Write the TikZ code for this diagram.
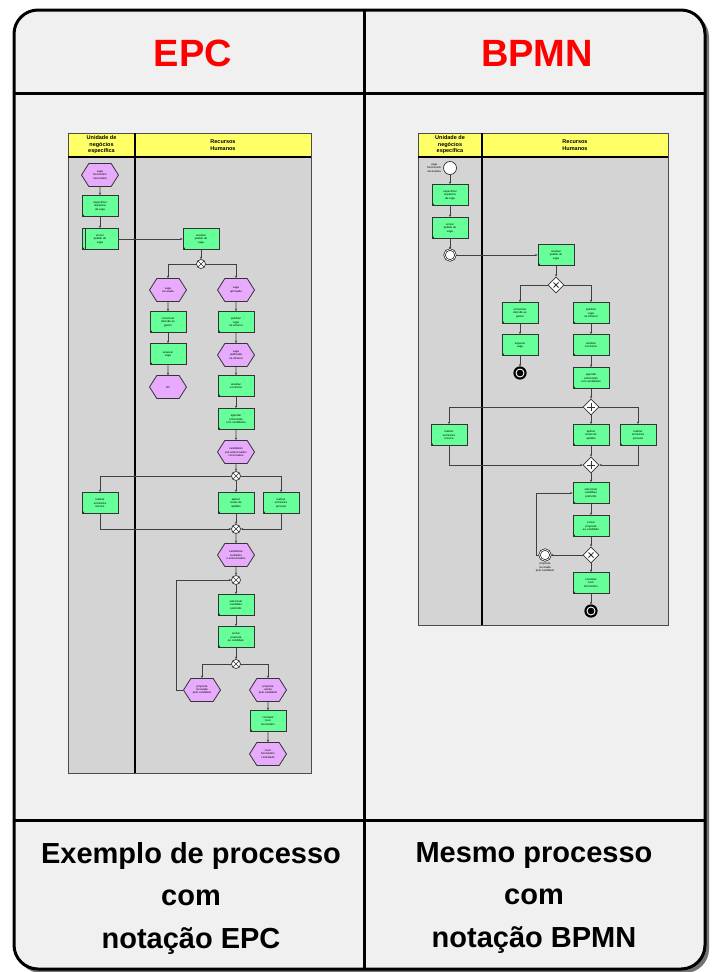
\documentclass[tikz,border=0pt]{standalone}
\usepackage{fontspec}
\setmainfont{Liberation Sans}
\usetikzlibrary{shapes.symbols,shapes.geometric,arrows.meta,positioning}
\definecolor{fngreen}{RGB}{102,255,153}
\definecolor{evviolet}{RGB}{232,170,252}
\definecolor{laneyellow}{RGB}{255,255,102}
\definecolor{lanegray}{RGB}{212,212,212}
\definecolor{boxgray}{RGB}{240,240,240}
\definecolor{titlered}{RGB}{255,0,0}
\newcommand{\tinytxt}{\fontsize{2.8}{3.3}\selectfont}
\tikzset{
  fn/.style={draw=black!80, fill=fngreen, line width=0.8pt, minimum width=36pt, minimum height=21pt,
    inner sep=0pt, align=center, font=\tinytxt,
    path picture={\fill[green!30!black] (path picture bounding box.south west) circle (2.4pt);}},
  fnlink/.style={path picture={\fill[green!30!black] (path picture bounding box.south west) circle (2.4pt);
    \draw[black!80, line width=0.6pt] ([xshift=3pt]path picture bounding box.north west) -- ([xshift=3pt]path picture bounding box.south west);}},
  ev/.style={shape=signal, signal to=west and east, signal pointer angle=115, draw=black!80, fill=evviolet,
    line width=0.8pt, minimum width=37pt, minimum height=23pt, inner sep=0pt, align=center, font=\tinytxt},
  xr/.style={circle, draw=black!80, fill=white, line width=0.7pt, minimum size=9pt, inner sep=0pt,
    path picture={\draw[line width=0.6pt] (path picture bounding box.north west) -- (path picture bounding box.south east)
      (path picture bounding box.north east) -- (path picture bounding box.south west);}},
  gw/.style={diamond, draw=black!80, fill=white, line width=0.7pt, minimum size=16pt, inner sep=0pt},
  gwx/.style={gw, path picture={\draw[line width=1pt] (path picture bounding box.center) +(-2.5pt,-2.5pt) -- +(2.5pt,2.5pt) +(-2.5pt,2.5pt) -- +(2.5pt,-2.5pt);}},
  gwp/.style={gw, path picture={\draw[line width=1pt] (path picture bounding box.center) +(-4pt,0) -- +(4pt,0) +(0,-4pt) -- +(0,4pt);}},
  bstart/.style={circle, draw=black!80, fill=white, line width=0.7pt, minimum size=13pt, inner sep=0pt},
  bpmnend/.style={circle, draw=black, fill=black, line width=1.2pt, minimum size=12pt, inner sep=0pt,
    path picture={\draw[white, line width=0.9pt] (path picture bounding box.center) circle (4pt);}},
  binter/.style={circle, draw=black, fill=white, double, double distance=0.8pt, line width=0.6pt, minimum size=11pt, inner sep=0pt},
  lbl/.style={align=center, font=\tinytxt, inner sep=0pt},
  flow/.style={draw=black!75, line width=0.7pt, -{Stealth[length=2.5pt,width=2.2pt]}},
}
\begin{document}
\begin{tikzpicture}[x=1pt,y=-1pt]
\useasboundingbox (0,0) rectangle (713,972);
% moldura
\fill[black!55, rounded corners=24pt] (17,13) rectangle (709,973);
\draw[line width=3pt, fill=boxgray, rounded corners=24pt] (14,10) rectangle (705,969);
\draw[line width=3pt] (14,93) -- (705,93) (14,820) -- (705,820) (364,10) -- (364,969);
\node[font=\fontsize{38}{38}\selectfont\bfseries, text=titlered] (tepc) at (193,53) {EPC};
\node[font=\fontsize{38}{38}\selectfont\bfseries, text=titlered] (tbpmn) at (537,53) {BPMN};
\node[font=\fontsize{29}{42.5}\selectfont\bfseries, align=center] (cepc) at (191,898) {Exemplo de processo\\com\\notação EPC};
\node[font=\fontsize{29}{42.5}\selectfont\bfseries, align=center] (cbpmn) at (534,898) {Mesmo processo\\com\\notação BPMN};

% raias
\foreach \l/\m/\r/\b in {68/135/311/773,418/482/668/625} {
  \fill[laneyellow] (\l,133) rectangle (\r,157);
  \fill[lanegray] (\l,157) rectangle (\r,\b);
  \draw[black!70, line width=1pt] (\l,133) rectangle (\r,\b);
  \draw[line width=1.8pt] (\l,157) -- (\r,157) (\m,133) -- (\m,\b);
  \node[font=\fontsize{5.5}{6.5}\selectfont\bfseries, align=center] (hu\l) at ({(\l+\m)/2},145) {Unidade de\\negócios\\específica};
  \node[font=\fontsize{5.5}{6.5}\selectfont\bfseries, align=center] (hr\l) at ({(\m+\r)/2},145) {Recursos\\Humanos};
}

% EPC
\node[ev] (e1) at (100,175) {vaga\\funcionário\\necessária};
\node[fn] (f1) at (100,206) {especificar\\requisitos\\da vaga};
\node[fn,fnlink] (f2) at (100,239) {enviar\\pedido de\\vaga};
\node[fn] (f3) at (201,239) {analisar\\pedido de\\vaga};
\node[xr] (x1) at (201,264) {};
\node[ev] (ea) at (168,290) {vaga\\recusada};
\node[ev] (eb) at (236,290) {vaga\\aprovada};
\node[fn] (fa1) at (168,322) {comunicar\\decisão ao\\gestor};
\node[fn] (fa2) at (168,354) {arquivar\\vaga};
\node[ev] (ea2) at (168,387) {fim};
\node[fn] (fb1) at (236,322) {publicar\\vaga\\na intranet};
\node[ev] (eb2) at (236,355) {vaga\\publicada\\na intranet};
\node[fn] (fb2) at (236,386) {analisar\\currículos};
\node[fn] (fb3) at (236,419) {agendar\\entrevistas\\com candidatos};
\node[ev] (eb3) at (236,452) {candidatos\\pré-selecionados\\convocados};
\node[xr] (x2) at (236,476) {};
\node[fn] (fc1) at (100,503) {realizar\\entrevista\\técnica};
\node[fn] (fc2) at (236,503) {aplicar\\testes de\\aptidão};
\node[fn] (fc3) at (281,503) {realizar\\entrevista\\pessoal};
\node[xr] (x3) at (236,529) {};
\node[ev] (e4) at (236,555) {candidatos\\avaliados\\e entrevistados};
\node[xr] (x4) at (236,580) {};
\node[fn] (f5) at (236,605) {selecionar\\candidato\\preferido};
\node[fn] (f6) at (236,637) {enviar\\proposta\\ao candidato};
\node[xr] (x5) at (236,664) {};
\node[ev] (e5) at (202,690) {proposta\\recusada\\pelo candidato};
\node[ev] (e6) at (268,690) {proposta\\aceita\\pelo candidato};
\node[fn] (f7) at (268,721) {contratar\\novo\\funcionário};
\node[ev] (e7) at (268,754) {novo\\funcionário\\contratado};

\foreach \a/\b in {e1/f1,f1/f2,f2/f3,f3/x1,ea/fa1,fa1/fa2,fa2/ea2,eb/fb1,fb1/eb2,eb2/fb2,fb2/fb3,fb3/eb3,eb3/x2,
    x2/fc2,fc2/x3,x3/e4,e4/x4,x4/f5,f5/f6,f6/x5,e6/f7,f7/e7}
  \draw[flow] (\a) -- (\b);
\draw[flow] (x1) -| (ea);
\draw[flow] (x1) -| (eb);
\draw[flow] (x2) -| (fc1);
\draw[flow] (x2) -| (fc3);
\draw[flow] (fc1) |- (x3);
\draw[flow] (fc3) |- (x3);
\draw[flow] (x5) -| (e5);
\draw[flow] (x5) -| (e6);
\draw[flow] (e5.west) -- ++(-7,0) |- (x4.west);

% BPMN
\node[bstart] (s1) at (450,168) {};
\node[lbl, left=2pt of s1] (s1l) {vaga\\funcionário\\necessária};
\node[fn] (t1) at (450,195) {especificar\\requisitos\\da vaga};
\node[fn] (t2) at (450,228) {enviar\\pedido de\\vaga};
\node[binter] (i1) at (450,255) {};
\node[fn] (t3) at (556,255) {analisar\\pedido de\\vaga};
\node[gwx] (g1) at (556,285) {};
\node[fn] (ta1) at (520,313) {comunicar\\decisão ao\\gestor};
\node[fn] (ta2) at (520,345) {arquivar\\vaga};
\node[bpmnend] (n1) at (520,373) {};
\node[fn] (tb1) at (591,313) {publicar\\vaga\\na intranet};
\node[fn] (tb2) at (591,345) {analisar\\currículos};
\node[fn] (tb3) at (591,378) {agendar\\entrevistas\\com candidatos};
\node[gwp] (g2) at (591,407) {};
\node[fn] (tc1) at (449,435) {realizar\\entrevista\\técnica};
\node[fn] (tc2) at (591,435) {aplicar\\testes de\\aptidão};
\node[fn] (tc3) at (638,435) {realizar\\entrevista\\pessoal};
\node[gwp] (g3) at (591,465) {};
\node[fn] (t4) at (591,493) {selecionar\\candidato\\preferido};
\node[fn] (t5) at (591,526) {enviar\\proposta\\ao candidato};
\node[gwx] (g4) at (591,555) {};
\node[binter] (i2) at (545,555) {};
\node[lbl, below=2pt of i2] (i2l) {proposta\\recusada\\pelo candidato};
\node[fn] (t6) at (591,583) {contratar\\novo\\funcionário};
\node[bpmnend] (n2) at (591,611) {};

\foreach \a/\b in {s1/t1,t1/t2,t2/i1,i1/t3,t3/g1,ta1/ta2,ta2/n1,tb1/tb2,tb2/tb3,tb3/g2,g2/tc2,tc2/g3,
    g3/t4,t4/t5,t5/g4,g4/i2,g4/t6,t6/n2}
  \draw[flow] (\a) -- (\b);
\draw[flow] (g1) -| (ta1);
\draw[flow] (g1) -| (tb1);
\draw[flow] (g2) -| (tc1);
\draw[flow] (g2) -| (tc3);
\draw[flow] (tc1) |- (g3);
\draw[flow] (tc3) |- (g3);
\draw[flow] (i2.west) -- ++(-3,0) |- (t4.west);
\end{tikzpicture}
\end{document}
